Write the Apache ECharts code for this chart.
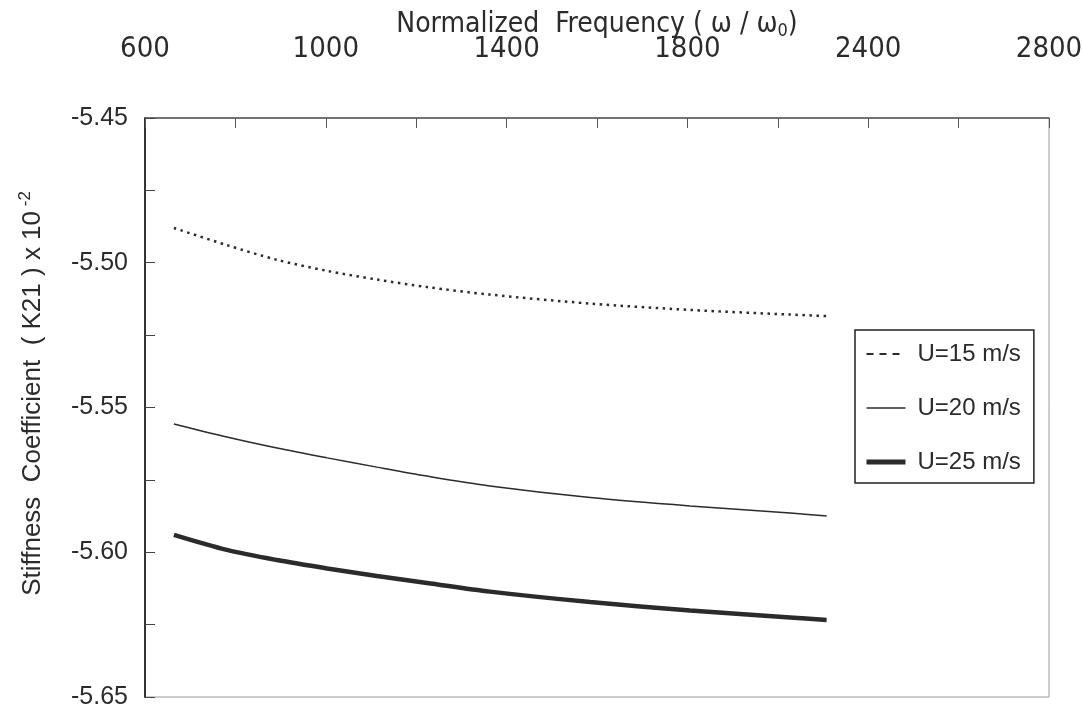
<!DOCTYPE html>
<html>
<head>
<meta charset="utf-8">
<script src="https://cdn.jsdelivr.net/npm/echarts@6/dist/echarts.min.js"></script>
<style>
html,body{margin:0;padding:0;background:#fff;}
#chart{width:1082px;height:714px;}
</style>
</head>
<body>
<div id="chart"></div>
<script>
// x positions expressed in the (linear) units of the drawn axis
const freq = [664, 781, 892, 1003, 1113, 1224, 1363, 1585, 1806, 2027, 2108];
const u15 = [-5.4880, -5.4939, -5.4990, -5.5028, -5.5058, -5.5084, -5.5110, -5.5141, -5.5163, -5.5179, -5.5184];
const u20 = [-5.5557, -5.5602, -5.5640, -5.5674, -5.5706, -5.5737, -5.5771, -5.5811, -5.5840, -5.5864, -5.5875];
const u25 = [-5.5940, -5.5992, -5.6027, -5.6056, -5.6082, -5.6106, -5.6136, -5.6172, -5.6201, -5.6225, -5.6234];
const xTickLabels = ['600', '1000', '1400', '1800', '2400', '2800'];
const seriesNames = ['U=15 m/s', 'U=20 m/s', 'U=25 m/s'];

const X_MIN = 600, X_STEP = 400, X_MAX = 2600;
const pair = (ys) => freq.map((x, i) => [x, ys[i]]);

const narrow = "'Liberation Sans Narrow', 'DejaVu Sans Condensed', 'Liberation Sans', sans-serif";
const regular = "'Liberation Sans', Arial, sans-serif";
const ink = '#2b2b2b';

const chart = echarts.init(document.getElementById('chart'), null, {renderer: 'canvas'});
chart.setOption({
  backgroundColor: '#ffffff',
  animation: false,
  grid: {left: 145, right: 33, top: 118, bottom: 17, show: true, borderColor: '#9a9a9a', borderWidth: 1,
         containLabel: false, outerBoundsMode: 'none'},
  legend: {
    orient: 'vertical', left: 855, top: 330,
    borderColor: '#222', borderWidth: 1.5,
    padding: [12, 13, 9, 9],
    itemGap: 30, itemWidth: 39, itemHeight: 14,
    itemStyle: {opacity: 0},
    textStyle: {fontFamily: regular, fontSize: 24, color: ink, padding: [0, 0, 0, 7]},
    data: [
      {name: seriesNames[0], lineStyle: {type: [7, 6], width: 2}},
      {name: seriesNames[1], lineStyle: {width: 1.5}},
      {name: seriesNames[2], lineStyle: {width: 5}}
    ]
  },
  xAxis: {
    type: 'value', position: 'top', min: X_MIN, max: X_MAX, interval: X_STEP,
    name: '{t|Normalized  Frequency ( ω / ω}{sub|0}{t|)}',
    nameLocation: 'middle', nameGap: 78, nameMoveOverlap: false,
    nameTextStyle: {
      rich: {
        t: {fontFamily: narrow, fontSize: 28, color: ink},
        sub: {fontFamily: narrow, fontSize: 18, color: ink, verticalAlign: 'bottom', padding: [13, 0, 0, 0]}
      }
    },
    axisLine: {show: true, lineStyle: {color: '#555', width: 1.5}},
    axisTick: {show: true, inside: true, length: 10, lineStyle: {color: '#555', width: 1}},
    minorTick: {show: true, splitNumber: 2, length: 10, lineStyle: {color: '#555', width: 1}},
    splitLine: {show: false},
    axisLabel: {
      margin: 54, fontFamily: narrow, fontSize: 29, color: ink,
      formatter: (v) => xTickLabels[Math.round((v - X_MIN) / X_STEP)] || ''
    }
  },
  yAxis: {
    type: 'value', min: -5.65, max: -5.45, interval: 0.05,
    name: '{t|Stiffness  Coefficient  ( K21 ) x 10}{sup| -2}',
    nameLocation: 'middle', nameGap: 96, nameMoveOverlap: false,
    nameTextStyle: {
      padding: [0, 0, 0, 28],
      rich: {
        t: {fontFamily: regular, fontSize: 26, color: ink},
        sup: {fontFamily: regular, fontSize: 17, color: ink, verticalAlign: 'top', padding: [0, 0, 15, 0]}
      }
    },
    axisLine: {show: true, lineStyle: {color: '#333', width: 2}},
    axisTick: {show: true, inside: true, length: 10, lineStyle: {color: '#444', width: 1}},
    minorTick: {show: true, splitNumber: 2, length: 10, lineStyle: {color: '#444', width: 1}},
    splitLine: {show: false},
    axisLabel: {
      margin: 17, fontFamily: regular, fontSize: 25, color: ink,
      formatter: (v) => v.toFixed(2)
    }
  },
  series: [
    {name: seriesNames[0], type: 'line', data: pair(u15), smooth: 0.3, symbol: 'none',
     lineStyle: {color: ink, width: 2.5, type: [2.5, 4.5], cap: 'butt'}, itemStyle: {color: ink}},
    {name: seriesNames[1], type: 'line', data: pair(u20), smooth: 0.3, symbol: 'none',
     lineStyle: {color: ink, width: 1.5}, itemStyle: {color: ink}},
    {name: seriesNames[2], type: 'line', data: pair(u25), smooth: 0.3, symbol: 'none',
     lineStyle: {color: ink, width: 4.5}, itemStyle: {color: ink}}
  ]
});
</script>
</body>
</html>
